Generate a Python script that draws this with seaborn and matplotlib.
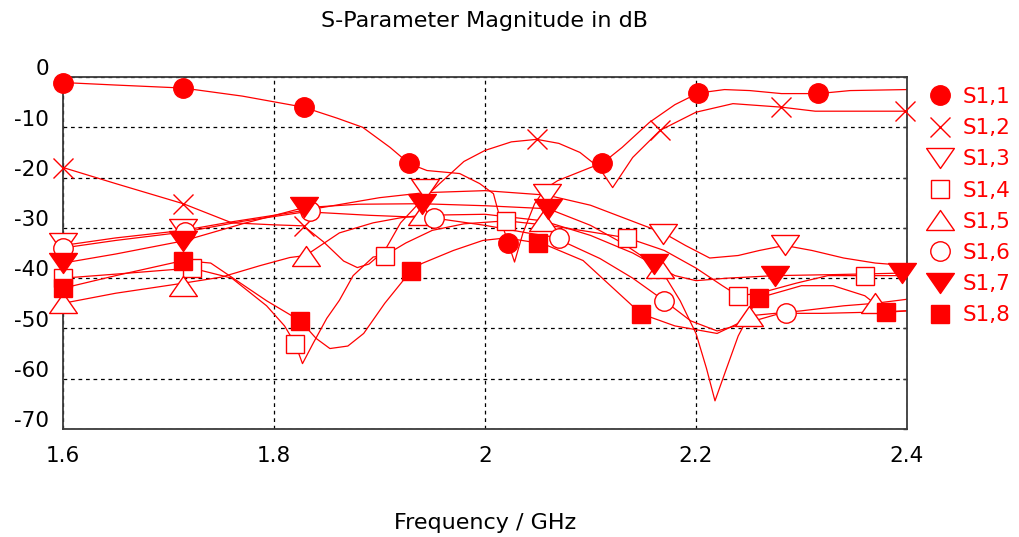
import numpy as np
import matplotlib
matplotlib.use("Agg")
import matplotlib.pyplot as plt
import matplotlib.transforms as mtransforms
from matplotlib.path import Path
import seaborn as sns

# curves (frequency in GHz, magnitude in dB)
s11_f = [1.600, 1.650, 1.714, 1.770, 1.828, 1.860, 1.884, 1.910, 1.928, 1.945, 1.976, 1.995, 2.008, 2.014,
         2.022, 2.028, 2.036, 2.047, 2.057, 2.069, 2.100, 2.111, 2.130, 2.156, 2.180, 2.202, 2.227, 2.251,
         2.281, 2.316, 2.346, 2.400]
s11_db = [-1.1, -1.6, -2.2, -3.8, -6.0, -8.2, -10.0, -14.0, -17.2, -18.6, -19.2, -21.2, -23.2, -27.9,
          -33.0, -36.8, -31.0, -25.2, -22.2, -20.6, -18.0, -17.2, -14.0, -9.0, -5.5, -3.2, -2.5, -2.7,
          -3.3, -3.3, -2.7, -2.5]
s11_mf = [1.600, 1.714, 1.828, 1.928, 2.022, 2.111, 2.202, 2.316]
s11_mdb = [-1.1, -2.2, -6.0, -17.2, -33.0, -17.2, -3.2, -3.2]

s12_f = [1.600, 1.650, 1.714, 1.760, 1.800, 1.828, 1.847, 1.866, 1.879, 1.890, 1.905, 1.920, 1.940, 1.957,
         1.980, 2.000, 2.025, 2.049, 2.070, 2.090, 2.108, 2.121, 2.140, 2.166, 2.200, 2.235, 2.281, 2.313,
         2.350, 2.400]
s12_db = [-18.0, -21.2, -25.2, -29.0, -29.4, -29.6, -32.8, -36.6, -37.9, -37.2, -34.5, -29.0, -24.5, -21.2,
          -16.8, -14.6, -12.9, -12.4, -13.2, -15.0, -18.0, -22.0, -16.0, -10.6, -7.0, -5.3, -6.0, -6.8,
          -6.8, -6.8]
s12_mf = [1.600, 1.714, 1.828, 2.049, 2.166, 2.281, 2.398]
s12_mdb = [-18.0, -25.2, -29.6, -12.4, -10.6, -6.0, -6.8]

s13_f = [1.600, 1.650, 1.714, 1.760, 1.800, 1.850, 1.900, 1.943, 2.000, 2.059, 2.100, 2.125, 2.150, 2.169,
         2.190, 2.213, 2.240, 2.260, 2.284, 2.310, 2.340, 2.370, 2.400]
s13_db = [-33.5, -32.0, -30.5, -28.8, -27.5, -25.8, -24.0, -23.0, -22.6, -23.5, -25.5, -27.5, -29.5, -31.0,
          -33.5, -36.0, -35.5, -34.5, -33.5, -34.5, -36.0, -37.0, -37.5]
s13_mf = [1.600, 1.714, 1.943, 2.059, 2.169, 2.284]
s13_mdb = [-33.0, -30.2, -22.3, -23.3, -31.3, -33.5]

s14_f = [1.600, 1.650, 1.722, 1.760, 1.793, 1.810, 1.820, 1.827, 1.837, 1.850, 1.862, 1.875, 1.894, 1.905,
         1.925, 1.950, 1.980, 2.020, 2.060, 2.100, 2.135, 2.170, 2.200, 2.225, 2.240, 2.260, 2.295, 2.325,
         2.360, 2.400]
s14_db = [-40.0, -39.2, -38.0, -40.0, -45.5, -49.5, -53.0, -57.0, -53.0, -48.0, -44.4, -39.5, -35.8, -35.5,
          -33.0, -30.5, -29.2, -28.6, -29.5, -30.8, -32.0, -34.5, -38.0, -41.5, -43.5, -43.0, -41.0, -39.5,
          -39.5, -39.5]
s14_mf = [1.600, 1.722, 1.820, 1.905, 2.020, 2.135, 2.240, 2.360]
s14_mdb = [-40.0, -38.0, -53.0, -35.5, -28.6, -32.0, -43.5, -39.5]

s15_f = [1.600, 1.650, 1.714, 1.750, 1.787, 1.815, 1.830, 1.862, 1.894, 1.920, 1.940, 2.000, 2.055, 2.100,
         2.140, 2.166, 2.185, 2.200, 2.210, 2.218, 2.228, 2.240, 2.250, 2.300, 2.340, 2.370, 2.400]
s15_db = [-45.0, -43.0, -41.0, -39.8, -37.5, -35.9, -35.5, -31.0, -29.0, -28.0, -27.5, -27.3, -28.6, -31.5,
          -35.0, -38.0, -44.5, -51.0, -58.0, -64.4, -58.5, -51.5, -47.5, -46.5, -45.5, -45.0, -44.2]
s15_mf = [1.600, 1.714, 1.830, 1.940, 2.055, 2.166, 2.250, 2.370]
s15_mdb = [-45.0, -41.5, -35.5, -27.5, -28.6, -38.0, -47.5, -45.0]

s16_f = [1.600, 1.650, 1.716, 1.770, 1.830, 1.890, 1.950, 2.000, 2.040, 2.070, 2.078, 2.109, 2.140, 2.170,
         2.195, 2.220, 2.250, 2.280, 2.320, 2.360, 2.400]
s16_db = [-34.0, -32.5, -30.8, -28.7, -26.8, -27.5, -28.0, -29.5, -31.0, -32.0, -33.1, -36.1, -40.0, -44.5,
          -48.5, -50.5, -48.8, -47.0, -47.0, -46.8, -46.5]
s16_mf = [1.600, 1.716, 1.834, 1.952, 2.070, 2.170, 2.285]
s16_mdb = [-34.0, -30.8, -26.6, -28.0, -32.0, -44.5, -47.0]

s17_f = [1.600, 1.650, 1.714, 1.770, 1.828, 1.880, 1.940, 2.000, 2.060, 2.100, 2.130, 2.160, 2.180, 2.200,
         2.230, 2.275, 2.330, 2.395, 2.400]
s17_db = [-37.0, -35.2, -32.6, -29.2, -26.0, -25.3, -25.2, -25.6, -26.2, -29.5, -33.0, -37.2, -39.5, -40.5,
          -40.0, -39.5, -39.3, -39.0, -39.0]
s17_mf = [1.600, 1.714, 1.828, 1.940, 2.060, 2.160, 2.275, 2.395]
s17_mdb = [-37.0, -32.6, -25.8, -25.2, -26.2, -37.2, -39.5, -39.0]

s18_f = [1.600, 1.650, 1.714, 1.740, 1.793, 1.825, 1.840, 1.853, 1.870, 1.885, 1.905, 1.930, 1.940, 1.970,
         1.998, 2.020, 2.050, 2.059, 2.093, 2.121, 2.148, 2.180, 2.220, 2.245, 2.260, 2.300, 2.330, 2.360,
         2.380, 2.400]
s18_db = [-42.0, -39.5, -36.5, -37.0, -44.5, -48.5, -52.0, -54.0, -53.5, -51.0, -45.0, -38.5, -37.1, -34.5,
          -32.5, -32.0, -33.0, -33.5, -36.5, -41.9, -47.1, -49.5, -51.0, -48.5, -43.9, -41.5, -41.5, -43.5,
          -46.8, -46.5]
s18_mf = [1.600, 1.714, 1.825, 1.930, 2.050, 2.148, 2.260, 2.380]
s18_mdb = [-42.0, -36.5, -48.5, -38.5, -33.0, -47.1, -43.9, -46.8]

labels = ["S1,1", "S1,2", "S1,3", "S1,4", "S1,5", "S1,6", "S1,7", "S1,8"]
y_ticks = [0, -10, -20, -30, -40, -50, -60, -70]
x_ticks = [1.6, 1.8, 2.0, 2.2, 2.4]
x_ticklabels = ["1.6", "1.8", "2", "2.2", "2.4"]

sns.set_style("white")
plt.rcParams["font.family"] = ["DejaVu Sans"]
plt.rcParams["axes.unicode_minus"] = False
plt.rcParams["text.color"] = "black"
plt.rcParams["axes.labelcolor"] = "black"

RED = "#ff0000"

# wide, flat triangles like the original markers
tri_dn = Path([(-1, 0.72), (1, 0.72), (0, -0.72), (-1, 0.72)], closed=True)
tri_up = Path([(-1, -0.72), (1, -0.72), (0, 0.72), (-1, -0.72)], closed=True)

curves = [
    (s11_f, s11_db, s11_mf, s11_mdb, "o", True, 14),
    (s12_f, s12_db, s12_mf, s12_mdb, "x", False, 14),
    (s13_f, s13_db, s13_mf, s13_mdb, tri_dn, False, 20),
    (s14_f, s14_db, s14_mf, s14_mdb, "s", False, 13),
    (s15_f, s15_db, s15_mf, s15_mdb, tri_up, False, 20),
    (s16_f, s16_db, s16_mf, s16_mdb, "o", False, 14),
    (s17_f, s17_db, s17_mf, s17_mdb, tri_dn, True, 20),
    (s18_f, s18_db, s18_mf, s18_mdb, "s", True, 13),
]

fig = plt.figure(figsize=(10.2, 5.37), dpi=100)
ax = fig.add_axes([63 / 1020, 1 - 429 / 537, 844 / 1020, 352 / 537])

handles = []
for f, db, mf, mdb, mk, filled, ms in curves:
    sns.lineplot(x=f, y=db, ax=ax, color=RED, lw=0.9, sort=False, estimator=None, zorder=2)
    h, = ax.plot(mf, mdb, linestyle="none", marker=mk, ms=ms, mec=RED,
                 mfc=RED if filled else "white", mew=1.0, zorder=3, clip_on=False)
    handles.append(h)

ax.set_xlim(1.6, 2.4)
ax.set_ylim(-70, 0)
ax.set_xticks(x_ticks)
ax.set_xticklabels(x_ticklabels)
ax.set_yticks(y_ticks)
ax.grid(True, color="black", linestyle=(0, (3, 3)), lw=0.9)

for s in ax.spines.values():
    s.set_color("#3a3a3a")
    s.set_linewidth(1.3)

ax.tick_params(axis="both", labelsize=15.5, labelcolor="black")
ax.tick_params(axis="y", direction="out", length=7, width=1, color="#3a3a3a", pad=3)
ax.tick_params(axis="x", direction="out", length=5, width=1, color="#3a3a3a", pad=7)
ax.tick_params(axis="y", right=True, which="both")
for t in ax.yaxis.get_major_ticks():
    t.tick2line.set_marker(matplotlib.lines.TICKLEFT)
    t.tick2line.set_markersize(3)

# labels sit a little above the grid lines in the original
off = mtransforms.ScaledTranslation(0, 7 / 72, fig.dpi_scale_trans)
for lab in ax.get_yticklabels():
    lab.set_transform(lab.get_transform() + off)

ax.set_title("S-Parameter Magnitude in dB", fontsize=16, pad=36, color="black")
ax.set_xlabel("Frequency / GHz", fontsize=16, labelpad=34, color="black")
ax.set_ylabel("")

fig.legend(handles, labels, loc="upper left", bbox_to_anchor=(929 / 1020, 1 - 87 / 537),
           frameon=False, handlelength=1.0, handletextpad=0.55, labelspacing=0.52,
           borderpad=0, borderaxespad=0, fontsize=15.5, labelcolor=RED)

fig.savefig("out.png", dpi=100)
